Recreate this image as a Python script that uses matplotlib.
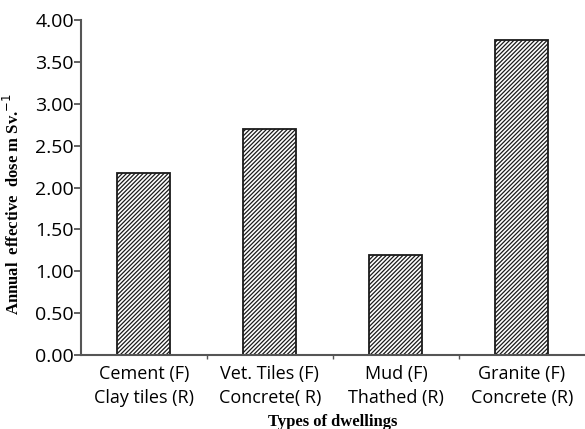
import numpy as np
import matplotlib.pyplot as plt
from matplotlib.ticker import FixedLocator

# dwelling types (floor / roof) and annual effective dose
categories = ['Cement (F)\nClay tiles (R)', 'Vet. Tiles (F)\nConcrete( R)',
              'Mud (F)\nThathed (R)', 'Granite (F)\nConcrete (R)']
doses = [2.17, 2.70, 1.20, 3.76]
yticks = [0.0, 0.5, 1.0, 1.5, 2.0, 2.5, 3.0, 3.5, 4.0]

plt.rcParams['hatch.linewidth'] = 0.9

fig = plt.figure(figsize=(5.85, 4.29), dpi=100)
ax = fig.add_axes([0.138, 0.1725, 0.862, 0.7805])

x = np.arange(len(categories))
ax.bar(x, doses, width=0.42, color='white', edgecolor='#1a1a1a',
       linewidth=1.3, hatch='////////')

ax.set_xlim(-0.5, 3.5)
ax.set_ylim(0, 4.0)
ax.set_yticks(yticks)
ax.set_yticklabels([f'{v:.2f}' for v in yticks], family='Open Sans', fontsize=14)
ax.set_xticks(x)
ax.set_xticklabels(categories, family='Open Sans', fontsize=13, linespacing=1.45)
ax.tick_params(axis='x', length=0, pad=7)
ax.xaxis.set_minor_locator(FixedLocator(x[:-1] + 0.5))
ax.tick_params(axis='x', which='minor', length=3, width=1, color='#555555')
ax.tick_params(axis='y', length=5, width=1.3, color='#555555', pad=0)

for side in ['top', 'right']:
    ax.spines[side].set_visible(False)
for side in ['left', 'bottom']:
    ax.spines[side].set_linewidth(1.5)
    ax.spines[side].set_color('#555555')

ax.set_ylabel('Annual  effective  dose m Sv.$^{-1}$', family='Liberation Serif',
              fontweight='bold', fontsize=12)
ax.yaxis.set_label_coords(-0.115, 0.45)
ax.set_xlabel('Types of dwellings', family='Liberation Serif',
              fontweight='bold', fontsize=12, labelpad=5)

fig.savefig('out.png', dpi=100)
